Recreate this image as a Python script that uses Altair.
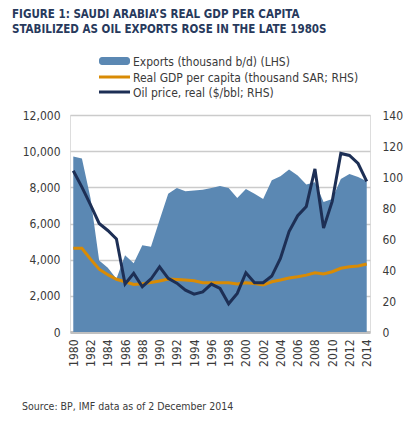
import altair as alt
import pandas as pd

years = list(range(1980, 2015))
exports = [9700, 9600, 7400, 3950, 3550, 2950, 4250, 3800, 4800, 4720,
           6200, 7650, 7970, 7780, 7820, 7870, 7970, 8080, 7970, 7410,
           7910, 7650, 7350, 8390, 8610, 8980, 8650, 8150, 8280, 7190,
           7350, 8460, 8740, 8570, 8330]
gdp_pc = [54, 54, 47, 40.5, 37, 34, 32.4, 30.7, 31.1, 32,
          32.9, 34.2, 33.9, 33.5, 33.1, 31.8, 31.8, 31.8, 31.8, 30.9,
          31.8, 31.3, 30.3, 32.4, 33.5, 34.8, 35.6, 36.7, 38.2, 37.4,
          38.9, 41.1, 42.1, 42.6, 43.9]
oil_price = [104, 93.5, 82, 70, 65.5, 60, 31, 37.8, 29.2, 34.2,
             42.1, 34.6, 31.5, 27, 24.4, 25.9, 30.9, 28.1, 18.2, 24.9,
             38.2, 31.8, 31.8, 36.1, 47.5, 64.8, 75, 81, 105.2, 67,
             84.3, 115.2, 113.9, 108.7, 97.2]

title_lines = ["FIGURE 1: SAUDI ARABIA\u2019S REAL GDP PER CAPITA",
               "STABILIZED AS OIL EXPORTS ROSE IN THE LATE 1980S"]
legend_labels = ["Exports (thousand b/d) (LHS)",
                 "Real GDP per capita (thousand SAR; RHS)",
                 "Oil price, real ($/bbl; RHS)"]
source_text = "Source: BP, IMF data as of 2 December 2014"
year_ticks = list(range(1980, 2015, 2))
left_ticks = list(range(0, 12001, 2000))
right_ticks = list(range(0, 141, 20))

AREA_C = "#5b88b3"
GDP_C = "#d98b04"
OIL_C = "#1d2f55"
TEXT_C = "#3a3a3a"
FONT = "Liberation Sans Narrow, DejaVu Sans Condensed, Arial Narrow, sans-serif"

df = pd.DataFrame({"year": years, "exports": exports, "gdp": gdp_pc, "oil": oil_price})

W, H = 300, 217
xscale = alt.Scale(domain=[1979.62, 2014.38], nice=False, zero=False)
xaxis = alt.Axis(values=year_ticks, format="d", labelAngle=270, ticks=False,
                 labelPadding=7, labelFontSize=12, labelColor=TEXT_C,
                 domainColor="#c0c0c0", domainWidth=3, grid=False, title=None,
                 labelFont=FONT, labelOverlap=False)
xenc = alt.X("year:Q", scale=xscale, axis=xaxis)

area = alt.Chart(df).mark_area(color=AREA_C, opacity=1).encode(
    x=xenc,
    y=alt.Y("exports:Q", scale=alt.Scale(domain=[0, 12000], nice=False),
            axis=alt.Axis(values=left_ticks, format=",d", title=None, ticks=False, domain=False,
                          labelPadding=10, labelFontSize=12, labelColor=TEXT_C, labelFont=FONT,
                          grid=True, gridColor="#cbcbcb", gridWidth=1.5)),
)

gdp_line = alt.Chart(df).mark_line(color=GDP_C, strokeWidth=3).encode(
    x=xenc,
    y=alt.Y("gdp:Q", scale=alt.Scale(domain=[0, 140], nice=False), axis=None),
)

oil_line = alt.Chart(df).mark_line(color=OIL_C, strokeWidth=3).encode(
    x=xenc,
    y=alt.Y("oil:Q", scale=alt.Scale(domain=[0, 140], nice=False),
            axis=alt.Axis(values=right_ticks, orient="right", title=None, ticks=False, domain=False,
                          format="d", labelPadding=12, labelFontSize=12, labelColor=TEXT_C,
                          labelFont=FONT, grid=False)),
)


def txt(s, x, y, size, weight="normal", color=TEXT_C):
    return alt.Chart(pd.DataFrame({"t": [s]})).mark_text(
        align="left", baseline="alphabetic", fontSize=size, fontWeight=weight,
        color=color, font=FONT, clip=False
    ).encode(text="t:N", x=alt.value(x), y=alt.value(y))


title1 = txt(title_lines[0], -58, -97, 11.5, "bold", "#27395c")
title2 = txt(title_lines[1], -58, -82, 11.5, "bold", "#27395c")

leg_y = [-54, -38, -23]
sw_area = alt.Chart(pd.DataFrame({"k": [0]})).mark_rect(
    color=AREA_C, cornerRadius=3).encode(
    x=alt.value(29), x2=alt.value(60), y=alt.value(leg_y[0] - 4), y2=alt.value(leg_y[0] + 4))
sw_gdp = alt.Chart(pd.DataFrame({"k": [0]})).mark_rule(
    color=GDP_C, strokeWidth=3).encode(
    x=alt.value(29), x2=alt.value(60), y=alt.value(leg_y[1]))
sw_oil = alt.Chart(pd.DataFrame({"k": [0]})).mark_rule(
    color=OIL_C, strokeWidth=3).encode(
    x=alt.value(29), x2=alt.value(60), y=alt.value(leg_y[2]))
leg_texts = [txt(legend_labels[i], 63, leg_y[i] + 4.5, 12) for i in range(3)]

source = txt(source_text, -48, 295, 10.5)

full = alt.layer(
    area, gdp_line, oil_line, title1, title2, sw_area, sw_gdp, sw_oil, *leg_texts, source
).resolve_scale(y="independent").properties(
    width=W, height=H,
    autosize=alt.AutoSizeParams(type="none"),
    padding={"left": 62, "top": 107, "right": 33, "bottom": 87},
).configure_view(stroke=None).configure(font=FONT, background="white")

full.save("out.html", embed_options={"renderer": "svg", "actions": False})
